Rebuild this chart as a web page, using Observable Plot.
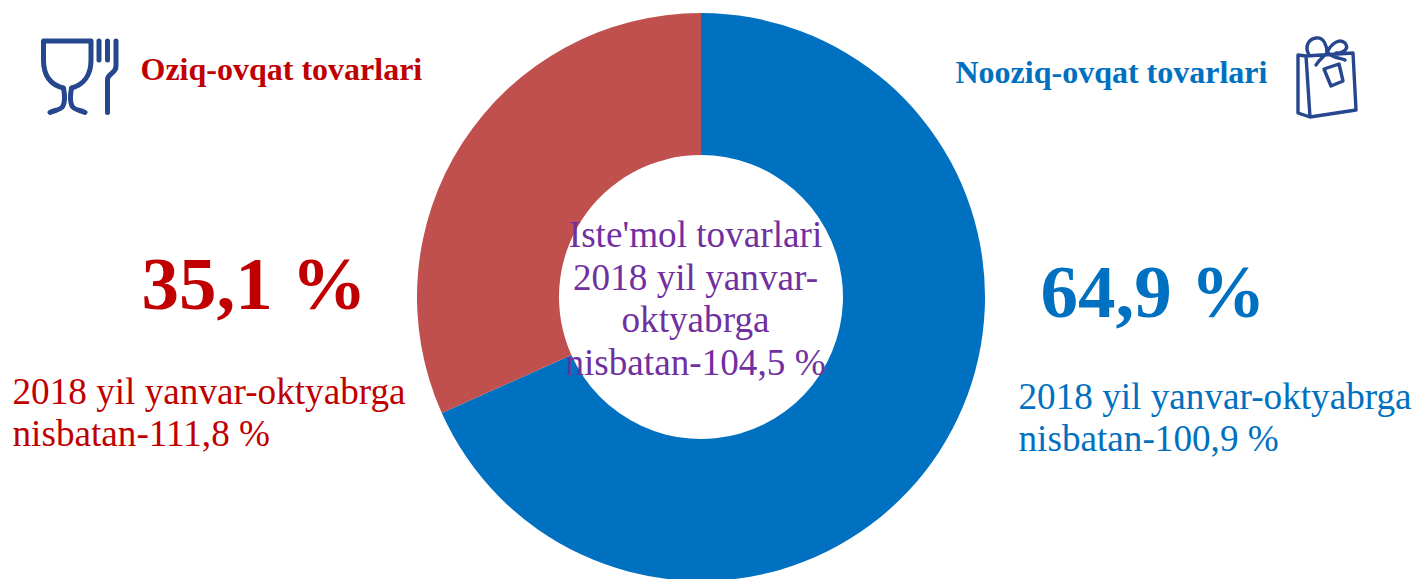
<!DOCTYPE html>
<html><head><meta charset="utf-8">
<style>html,body{margin:0;padding:0;background:#fff;overflow:hidden}svg{display:block}</style>
<script src="https://cdn.jsdelivr.net/npm/d3@7"></script>
<script src="https://cdn.jsdelivr.net/npm/@observablehq/plot@0.6"></script>
</head><body><div id="chart"></div>
<script>
const categories = ["Nooziq-ovqat tovarlari", "Oziq-ovqat tovarlari"];
const sliceShares = [68.3, 31.7]; // sweep of each slice as drawn in the picture
const colors = ["#0070c0", "#c0504d"];
const shareLabels = ["64,9 %", "35,1 %"];
const changeLabels = ["2018 yil yanvar-oktyabrga\nnisbatan-100,9 %", "2018 yil yanvar-oktyabrga\nnisbatan-111,8 %"];
const centerLabel = "Iste'mol tovarlari\n2018 yil yanvar-\noktyabrga\nnisbatan-104,5 %";
const slices = categories.map((category, i) => ({category, share: sliceShares[i], color: colors[i]}));

const W = 1418, H = 579, cx = 701, cy = 297, R = 284, r = 142;
const serif = "'Liberation Serif','Times New Roman',serif";
const iconColor = "#26478d";
const glassPath = "M43.500 41H91V60C91 76 83 85 71.500 88C70 96 70 102 72 106C74 110 80 110 85 112.500M43.500 41V60C43.500 76 51 85 63.500 88C65 96 65 102 63 106C61 110 55 110 50 112.500";
const forkPath = "M99 41V60M107.500 41V60M116 41V66C116 74 107.500 73 107.500 80V112.500";
const bagPath = "M1298 55L1306 56L1353 53L1356 110L1310 117L1298 113ZM1306 56L1310 117M1309 55C1304 46 1309 39 1316 38C1324 37 1327 46 1327 53M1327 53C1331 43 1340 38 1345 43C1349 48 1345 53 1336 53M1327 53C1322 58 1319 60 1316 65M1328 53C1333 58 1341 58 1345 60M1324 69L1339 64L1343 81L1331 86Z";

const iconMark = (d, width) => () => {
  const p = document.createElementNS("http://www.w3.org/2000/svg", "path");
  p.setAttribute("d", d); p.setAttribute("fill", "none"); p.setAttribute("stroke", iconColor);
  p.setAttribute("stroke-width", width); p.setAttribute("stroke-linecap", "round"); p.setAttribute("stroke-linejoin", "round");
  return p;
};
const label = (text, color, size, weight, anchor, dx, dy, extra = {}) =>
  Plot.text([text], {text: d => d, frameAnchor: anchor, dx, dy, fill: color, fontSize: size, fontWeight: weight, fontFamily: serif, lineHeight: 1.14, ...extra});

const chart = Plot.plot({
  width: W, height: H, margin: 0,
  x: {domain: [0, 100], range: [0, 2 * Math.PI], axis: null},
  marks: [
    Plot.barX(slices, Plot.stackX({
      x: "share", order: null, fill: "color",
      render(index, scales, values) {
        const g = d3.create("svg:g").attr("transform", `translate(${cx},${cy})`);
        const arc = d3.arc().innerRadius(r).outerRadius(R);
        for (const i of index) {
          g.append("path")
            .attr("d", arc({startAngle: values.x1[i], endAngle: values.x2[i]}))
            .attr("fill", values.fill ? values.fill[i] : slices[i].color);
        }
        return g.node();
      }
    })),
    iconMark(glassPath, 5), iconMark(forkPath, 5), iconMark(bagPath, 3.4),
    label(categories[1], "#c00000", 32, "bold", "top-left", 140, 54),
    label(categories[0], "#0070c0", 32, "bold", "top-left", 955, 57),
    label(shareLabels[1], "#c00000", 75, "bold", "top-left", 141, 248),
    label(shareLabels[0], "#0070c0", 75, "bold", "top-left", 1040, 256),
    label(changeLabels[1], "#c00000", 37.2, "normal", "top-left", 12, 373),
    label(changeLabels[0], "#0070c0", 37.2, "normal", "top-left", 1018, 378),
    label(centerLabel, "#7030a0", 37.2, "normal", "top-left", 695, 216, {textAnchor: "middle", lineHeight: 1.15})
  ]
});
document.getElementById("chart").appendChild(chart);
</script></body></html>
